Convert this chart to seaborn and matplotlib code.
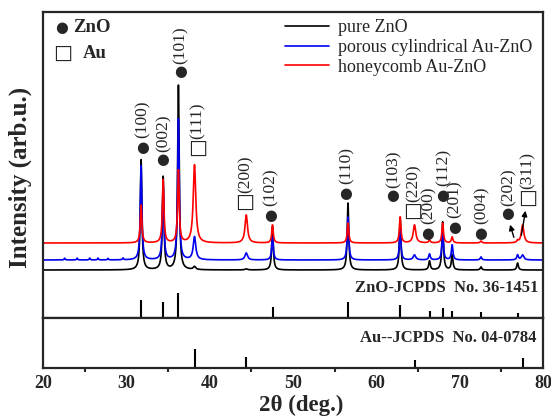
import numpy as np
import seaborn as sns
import matplotlib.pyplot as plt
from matplotlib.ticker import MultipleLocator

# 2-theta grid (deg.)
two_theta = np.arange(20, 80.001, 0.02)

# reflections and their positions
zno_hkl = ['(100)', '(002)', '(101)', '(102)', '(110)', '(103)', '(200)', '(112)', '(201)', '(004)', '(202)']
zno_pos = [31.77, 34.42, 36.25, 47.54, 56.60, 62.86, 66.38, 67.96, 69.10, 72.56, 76.95]
au_hkl = ['(111)', '(200)', '(220)', '(311)']
au_pos = [38.18, 44.39, 64.58, 77.55]

# peak heights (arb.u.), ZnO peaks then Au peaks
pure_zno = [111, 93, 186, 43, 67, 52, 9, 48, 15, 3, 7]
pure_au = [3, 1, 0, 0]
porous_zno = [95, 75, 142, 23, 43, 30, 6, 27, 15, 3, 5]
porous_au = [23, 7, 5, 5]
honey_zno = [38, 63, 73, 18, 20, 26, 3, 20, 6, 2, 2]
honey_au = [78, 28, 18, 18]

# vertical offsets of the three patterns
offsets = [48, 58, 75]

# small noise bumps on the porous pattern baseline
porous_noise_pos = [22.6, 24.1, 25.6, 26.6, 27.8, 29.6]
porous_noise_h = [1.8, 1.8, 1.8, 1.8, 1.5, 1.8]

# standard cards (stick heights)
zno_card = [18, 16, 25, 11, 16, 13, 7, 10, 7, 6, 5]
au_card = [19, 11, 8, 10]

samples = ['pure ZnO', 'porous cylindrical Au-ZnO', 'honeycomb Au-ZnO']
colors = ['black', '#0000ee', '#ff0000']


def pattern(zno_h, au_h, base, extra_pos=(), extra_h=()):
    """Sum of Lorentzian peaks on a flat baseline."""
    y = np.full_like(two_theta, float(base))
    for p, h in zip(zno_pos, zno_h):
        y += h / (1 + ((two_theta - p) / 0.11) ** 2)
    for p, h in zip(au_pos, au_h):
        y += h / (1 + ((two_theta - p) / 0.18) ** 2)
    for p, h in zip(extra_pos, extra_h):
        y += h / (1 + ((two_theta - p) / 0.07) ** 2)
    return y


sns.set_style('ticks')
plt.rcParams['font.family'] = ['Liberation Serif', 'DejaVu Sans']

fig = plt.figure(figsize=(5.51, 4.20), dpi=100)
ax = fig.add_axes([43 / 551, 1 - 318 / 420, 500 / 551, 306 / 420])
ax2 = fig.add_axes([43 / 551, 1 - 368 / 420, 500 / 551, 50 / 420], sharex=ax)

curves = [
    pattern(pure_zno, pure_au, offsets[0]),
    pattern(porous_zno, porous_au, offsets[1], porous_noise_pos, porous_noise_h),
    pattern(honey_zno, honey_au, offsets[2]),
]
for y, c, lab in zip(curves, colors, samples):
    sns.lineplot(x=two_theta, y=y, ax=ax, color=c, lw=1.2, label=lab)

# standard sticks
ax.vlines(zno_pos, 0, zno_card, color='black', lw=1.5)
ax2.vlines(au_pos, 0, au_card, color='black', lw=1.5)

ax.set_xlim(20, 80)
ax.set_ylim(0, 306)
ax2.set_ylim(0, 50)

# peak labels: centre of the phase symbol, text sits just above it
dot = dict(family='DejaVu Sans', fontsize=10.5, ha='center', va='center')
square = dict(family='DejaVu Sans', fontsize=14.5, ha='center', va='center')
hkl_font = dict(fontsize=12.5, rotation=90, ha='center', va='bottom')
zno_lab_xy = [(31.9, 171), (34.4, 158), (36.45, 246), (47.25, 103), (56.35, 125), (62.0, 122),
              (66.2, 85), (67.95, 123), (69.35, 91), (72.55, 85), (75.8, 104)]
au_lab_xy = [(38.5, 170), (44.25, 116), (64.4, 107), (78.1, 120)]
for hkl, (x, y) in zip(zno_hkl, zno_lab_xy):
    ax.text(x, y, '\u25cf', **dot)
    ax.text(x + 0.1, y + 8.5, hkl, **hkl_font)
for hkl, (x, y) in zip(au_hkl, au_lab_xy):
    ax.text(x, y, '\u25a1', **square)
    ax.text(x + 0.1, y + 9, hkl, **hkl_font)

arrow = dict(arrowstyle='-|>', color='black', lw=1.0, mutation_scale=8)
ax.annotate('', xy=(75.95, 96), xytext=(76.6, 78), arrowprops=arrow)
ax.annotate('', xy=(77.95, 110), xytext=(77.35, 80), arrowprops=arrow)

# phase symbols
ax.text(0.038, 0.948, '\u25cf', transform=ax.transAxes, **dot)
ax.text(0.06, 0.948, 'ZnO', transform=ax.transAxes, fontsize=13.5,
        fontweight='bold', va='center')
ax.text(0.04, 0.866, '\u25a1', transform=ax.transAxes, **square)
ax.text(0.08, 0.866, 'Au', transform=ax.transAxes, fontsize=13.5,
        fontweight='bold', va='center')

ax.legend(loc='upper left', bbox_to_anchor=(0.47, 1.0), frameon=False, fontsize=13,
          handlelength=2.4, handletextpad=0.5, labelspacing=0.15, borderaxespad=0)

ax.text(79.4, 30, 'ZnO-JCPDS  No. 36-1451', fontsize=12, fontweight='bold',
        ha='right', va='center')
ax2.text(79.2, 30, 'Au--JCPDS  No. 04-0784', fontsize=12, fontweight='bold',
         ha='right', va='center')

for a in (ax, ax2):
    for s in a.spines.values():
        s.set_linewidth(1.6)
        s.set_visible(True)
    a.tick_params(left=False, labelleft=False)
ax.tick_params(bottom=False, labelbottom=False)

ax2.xaxis.set_major_locator(MultipleLocator(10))
ax2.xaxis.set_minor_locator(MultipleLocator(5))
ax2.tick_params(axis='x', which='major', length=0, pad=5, labelsize=13)
ax2.tick_params(axis='x', which='minor', length=3, width=1.5, direction='out')
for lbl in ax2.get_xticklabels():
    lbl.set_fontweight('bold')

fig.text(20 / 551, 1 - 177 / 420, 'Intensity (arb.u.)', rotation=90, fontsize=18,
         fontweight='bold', ha='center', va='center')
fig.text(301 / 551, 1 - 405 / 420, '2\u03b8 (deg.)', fontsize=16.5, fontweight='bold',
         ha='center', va='center')

fig.savefig('out.png', dpi=100)
